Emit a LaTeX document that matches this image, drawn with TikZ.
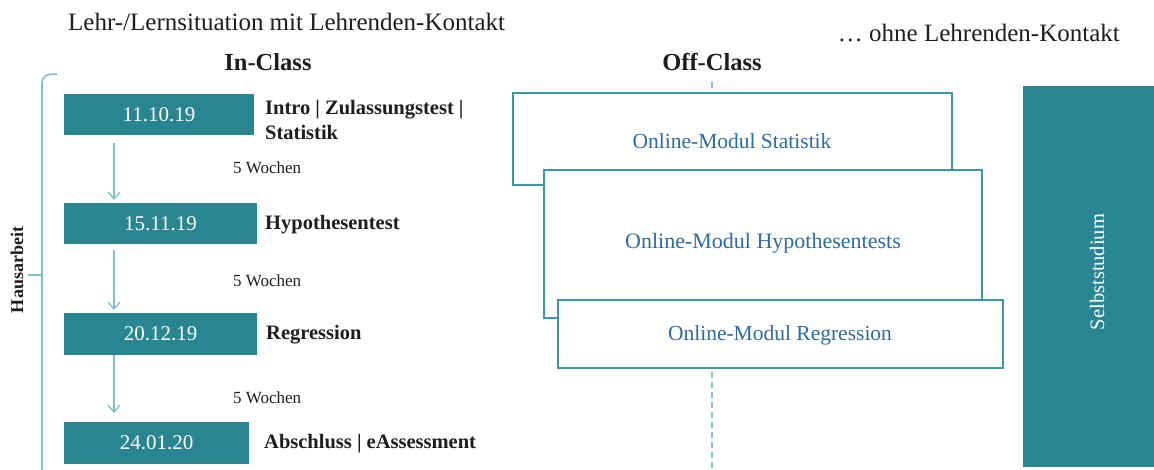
\documentclass[tikz,border=0pt]{standalone}
\usepackage{fontspec}
\setmainfont{Liberation Serif}
\usetikzlibrary{arrows.meta}
\definecolor{tealfill}{HTML}{2A8592}
\definecolor{tealline}{HTML}{3D96A4}
\definecolor{arrowteal}{HTML}{7CC0CB}
\definecolor{modblue}{HTML}{2E6AA3}
\definecolor{ink}{HTML}{1E1E1E}
\begin{document}
\begin{tikzpicture}[x=1pt,y=-1pt,
  datebox/.style={fill=tealfill,draw=none},
  datetext/.style={text=white,inner sep=0pt,font=\fontsize{21}{24}\selectfont},
  topic/.style={anchor=west,text=ink,inner sep=0pt,align=left,
    font=\fontsize{20.5}{25}\selectfont\bfseries},
  weeks/.style={anchor=west,text=ink,inner sep=0pt,font=\fontsize{17}{19}\selectfont},
  flow/.style={draw=arrowteal,line width=1.3pt,-{Straight Barb[length=7pt,width=12pt]}},
  modbox/.style={draw=tealline,line width=2pt,fill=white},
  modtext/.style={text=modblue,inner sep=0pt,font=\fontsize{21.5}{24}\selectfont},
  heading/.style={text=ink,inner sep=0pt,font=\fontsize{24.5}{28}\selectfont\bfseries},
  caption/.style={text=ink,inner sep=0pt,font=\fontsize{25}{28}\selectfont},
]
\useasboundingbox (0,0) rectangle (1154,470);

% headings
\node[caption,anchor=west] (lehr) at (68,22) {Lehr-/Lernsituation mit Lehrenden-Kontakt};
\node[caption,anchor=east] (ohne) at (1120,33) {\dots\ ohne Lehrenden-Kontakt};
\node[heading] (inclass) at (268,62) {In-Class};
\node[heading] (offclass) at (712,62) {Off-Class};

% Hausarbeit bracket
\draw[arrowteal,line width=1.6pt] (57,74) .. controls (46,74) and (42,76) .. (42,84) -- (42,470);
\draw[arrowteal,line width=1.6pt] (28,275) -- (42,275);
\node[rotate=90,text=ink,inner sep=0pt,font=\fontsize{18}{20}\selectfont\bfseries] (haus) at (17,270) {Hausarbeit};

% in-class dates
\path[datebox] (64,94) rectangle (254,135);
\node[datetext] (d1) at (159,114.5) {11.10.19};
\coordinate (d1b) at (114,135);
\path[datebox] (64,203) rectangle (257,244);
\node[datetext] (d2) at (160.5,223.5) {15.11.19};
\coordinate (d2t) at (114,203);
\coordinate (d2b) at (114,244);
\path[datebox] (64,313) rectangle (257,355);
\node[datetext] (d3) at (160.5,334) {20.12.19};
\coordinate (d3t) at (114,313);
\coordinate (d3b) at (114,355);
\path[datebox] (64,422) rectangle (249,464);
\node[datetext] (d4) at (156.5,443) {24.01.20};
\coordinate (d4t) at (114,422);

% topics
\node[topic] (t1) at (265,120) {Intro \textbar\ Zulassungstest \textbar\\Statistik};
\node[topic] (t2) at (265,225) {Hypothesentest};
\node[topic] (t3) at (266,335) {Regression};
\node[topic] (t4) at (264,444) {Abschluss \textbar\ eAssessment};

% intervals
\draw[flow,shorten <=8pt,shorten >=3pt] (d1b) -- (d2t);
\draw[flow,shorten <=6pt,shorten >=3pt] (d2b) -- (d3t);
\draw[flow,shorten >=9pt] (d3b) -- (d4t);
\node[weeks] (w1) at (233,168) {5 Wochen};
\node[weeks] (w2) at (233,281) {5 Wochen};
\node[weeks] (w3) at (233,398) {5 Wochen};

% off-class divider
\draw[arrowteal,line width=1.3pt,dash pattern=on 6pt off 4pt] (712,82) -- (712,470);

% online modules
\path[modbox] (513,93) rectangle (952,185);
\node[modtext] (m1) at (732,141) {Online-Modul Statistik};
\path[modbox] (544,170) rectangle (982,318);
\node[modtext,font=\fontsize{22}{24}\selectfont] (m2) at (763,243) {Online-Modul Hypothesentests};
\path[modbox] (558,300) rectangle (1003,368);
\node[modtext] (m3) at (780,335) {Online-Modul Regression};

% self-study column
\path[fill=tealfill] (1023,86) rectangle (1154,467);
\node[rotate=90,text=white,inner sep=0pt,font=\fontsize{20.5}{23}\selectfont] (self) at (1097,272) {Selbststudium};
\end{tikzpicture}
\end{document}
